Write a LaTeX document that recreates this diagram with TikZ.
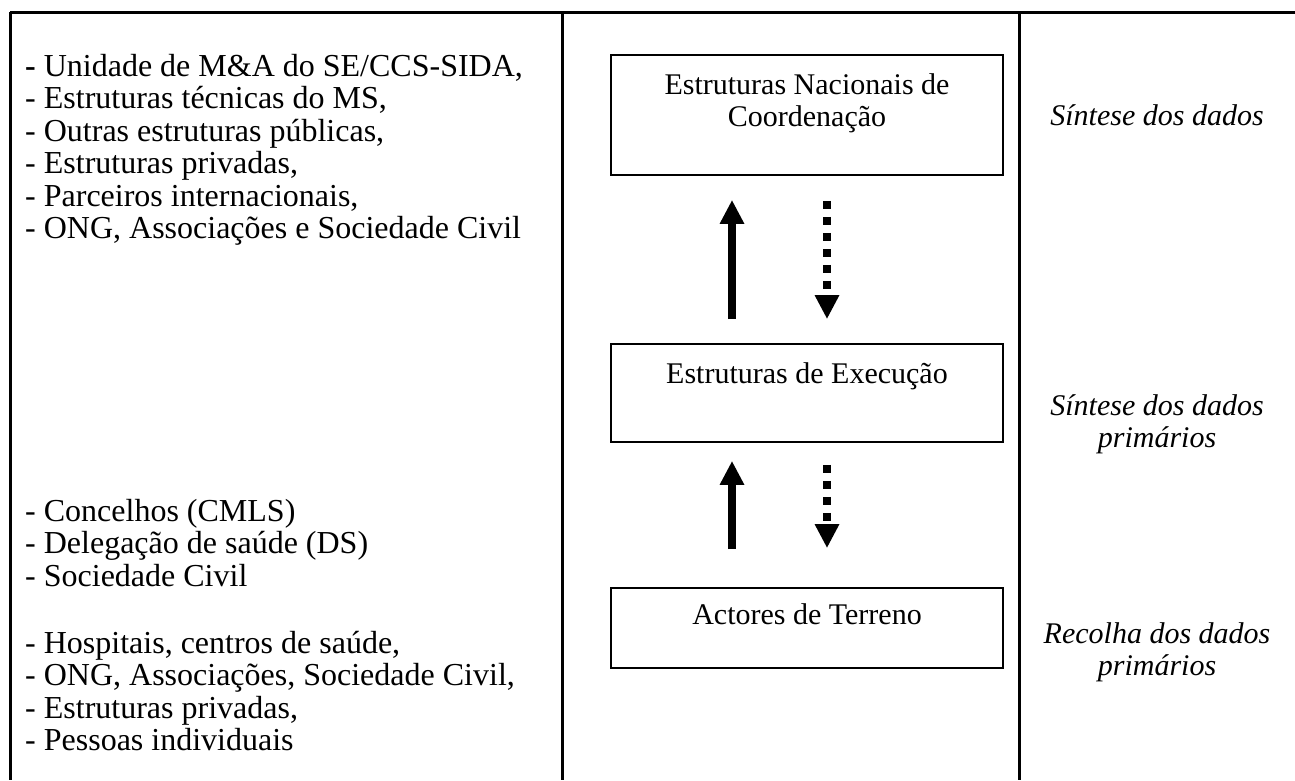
\documentclass[tikz,border=0pt]{standalone}
\usepackage{fontspec}
\setmainfont{Liberation Serif}
\usetikzlibrary{arrows.meta,positioning}

\begin{document}
\begin{tikzpicture}[x=1pt,y=-1pt,
	every node/.style={font=\fontsize{30}{32}\selectfont},
	rule/.style={line width=3pt},
	box/.style={draw,line width=1.8pt,minimum width=392pt,minimum height=#1,inner sep=0pt},
	boxtxt/.style={align=center,inner sep=0pt},
	txt/.style={align=left,anchor=north west,inner sep=0pt,font=\fontsize{32}{32.5}\selectfont},
	side/.style={align=center,anchor=north,inner sep=0pt,font=\fontsize{30}{32}\selectfont\itshape},
	uparrow/.style={line width=8pt,-{Triangle[width=23pt,length=24pt]}},
	downarrow/.style={line width=8pt,dash pattern=on 8pt off 8pt,-{Triangle[width=23pt,length=24pt]}}]
	\useasboundingbox (0,0) rectangle (1295,780);
	% table
	\draw[rule] (10,12)--(1295,12);
	\draw[rule] (10,12)--(10,780);
	\draw[rule] (562,12)--(562,780);
	\draw[rule] (1019,12)--(1019,780);
	
	% left column
	\node[txt] (actors) at (25,54) {\textbf{-} Unidade de M\&A do SE/CCS-SIDA,\\- Estruturas técnicas do MS,\\- Outras estruturas públicas,\\- Estruturas privadas,\\- Parceiros internacionais,\\- ONG, Associações e Sociedade Civil};
	\node[txt] (execactors) at (25,499) {- Concelhos (CMLS)\\- Delegação de saúde (DS)\\- Sociedade Civil};
	\node[txt] (fieldactors) at (25,631) {- Hospitais, centros de saúde,\\- ONG, Associações, Sociedade Civil,\\- Estruturas privadas,\\- Pessoas individuais};
	
	% middle column
	\node[box=120pt] (nat) at (807,115) {};
	\node[box=98pt] (exe) at (807,393) {};
	\node[box=80pt] (ter) at (807,628) {};
	\node[boxtxt,below=19pt of nat.north] (nattxt) {Estruturas Nacionais de\\Coordenação};
	\node[boxtxt,below=19pt of exe.north] (exetxt) {Estruturas de Execução};
	\node[boxtxt,below=16pt of ter.north] (tertxt) {Actores de Terreno};
	
	\draw[uparrow,shorten <=24pt,shorten >=24pt] ([xshift=-75pt]exe.north)--([xshift=-75pt]nat.south);
	\draw[downarrow,shorten <=25pt,shorten >=24pt] ([xshift=20pt]nat.south)--([xshift=20pt]exe.north);
	\draw[uparrow,shorten <=38pt,shorten >=18pt] ([xshift=-75pt]ter.north)--([xshift=-75pt]exe.south);
	\draw[downarrow,shorten <=22pt,shorten >=39pt] ([xshift=20pt]exe.south)--([xshift=20pt]ter.north);
	
	% right column
	\node[side] (synth) at (1157,104) {Síntese dos dados};
	\node[side] (synthprim) at (1157,394) {Síntese dos dados\\primários};
	\node[side] (collect) at (1157,622) {Recolha dos dados\\primários};
\end{tikzpicture}
\end{document}
